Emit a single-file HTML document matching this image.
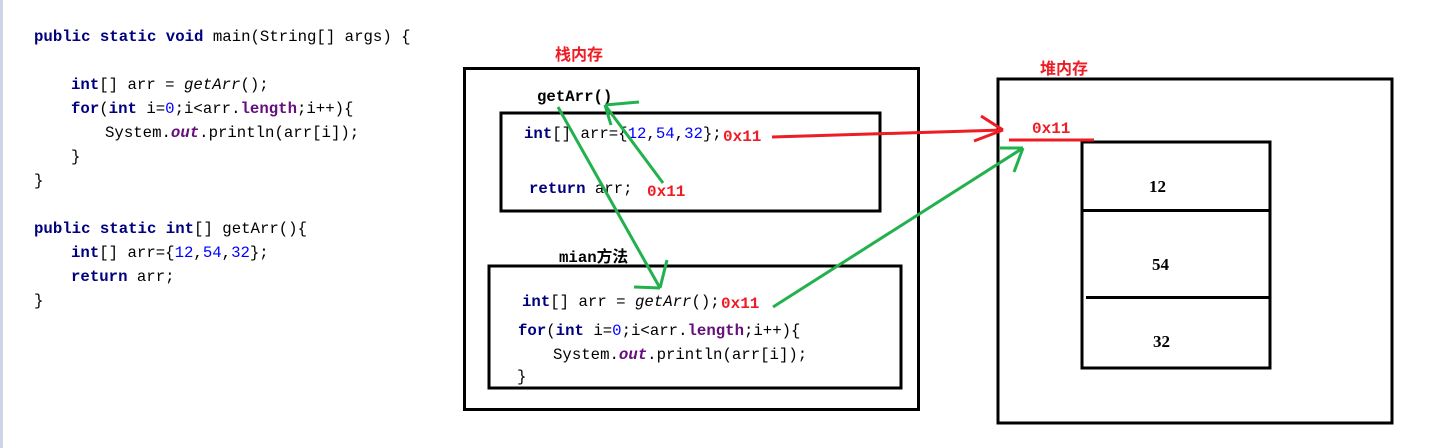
<!DOCTYPE html>
<html><head><meta charset="utf-8"><style>
html,body{margin:0;padding:0;background:#fff;width:1431px;height:448px;overflow:hidden}
svg{display:block}
.c{font-family:"Liberation Mono","Noto Sans CJK SC",monospace;font-size:15.7px;fill:#000}
.k{fill:#00007f;font-weight:bold}
.n{fill:#0000ff}
.p{fill:#660e7a;font-weight:bold}
.o{fill:#660e7a;font-weight:bold;font-style:italic}
.i{font-style:italic}
.r{fill:#ee1c24;font-weight:bold;font-family:"Liberation Mono","Noto Sans CJK SC",monospace;font-size:16px}
.b{font-family:"Liberation Mono","Noto Sans CJK SC",monospace;font-weight:bold;font-size:15.7px}
.h{font-family:"Liberation Serif",serif;font-weight:bold;font-size:17px}
</style></head><body>
<svg width="1431" height="448" xmlns="http://www.w3.org/2000/svg">
<rect x="0" y="0" width="3" height="448" fill="#cdd5e6"/>
<text class="c" x="34" y="41"><tspan class="k">public static void</tspan> main(String[] args) {</text>
<text class="c" x="71" y="89"><tspan class="k">int</tspan>[] arr = <tspan class="i">getArr</tspan>();</text>
<text class="c" x="71" y="113"><tspan class="k">for</tspan>(<tspan class="k">int</tspan> i=<tspan class="n">0</tspan>;i&lt;arr.<tspan class="p">length</tspan>;i++){</text>
<text class="c" x="105" y="137">System.<tspan class="o">out</tspan>.println(arr[i]);</text>
<text class="c" x="71" y="161">}</text>
<text class="c" x="34" y="185">}</text>
<text class="c" x="34" y="233"><tspan class="k">public static int</tspan>[] getArr(){</text>
<text class="c" x="71" y="257"><tspan class="k">int</tspan>[] arr={<tspan class="n">12</tspan>,<tspan class="n">54</tspan>,<tspan class="n">32</tspan>};</text>
<text class="c" x="71" y="281"><tspan class="k">return</tspan> arr;</text>
<text class="c" x="34" y="305">}</text>

<text x="555" y="60" fill="#ee1c24" font-weight="bold" font-size="16" font-family="Noto Sans CJK SC,sans-serif">栈内存</text>
<rect x="464.5" y="68.5" width="454" height="341" fill="none" stroke="#000" stroke-width="3"/>
<text class="b" x="537" y="101">getArr()</text>
<rect x="501" y="113" width="379" height="98" fill="none" stroke="#000" stroke-width="3"/>
<text class="c" x="524" y="138"><tspan class="k">int</tspan>[] arr={<tspan class="n">12</tspan>,<tspan class="n">54</tspan>,<tspan class="n">32</tspan>};</text>
<text class="r" x="723" y="141">0x11</text>
<text class="c" x="529" y="193"><tspan class="k">return</tspan> arr;</text>
<text class="r" x="647" y="196">0x11</text>
<text class="b" x="559" y="262">mian<tspan font-family="Noto Sans CJK SC,sans-serif">方法</tspan></text>
<rect x="489" y="266" width="412" height="122" fill="none" stroke="#000" stroke-width="3"/>
<text class="c" x="522" y="306"><tspan class="k">int</tspan>[] arr = <tspan class="i">getArr</tspan>();</text>
<text class="r" x="721" y="308">0x11</text>
<text class="c" x="518" y="335"><tspan class="k">for</tspan>(<tspan class="k">int</tspan> i=<tspan class="n">0</tspan>;i&lt;arr.<tspan class="p">length</tspan>;i++){</text>
<text class="c" x="553" y="359">System.<tspan class="o">out</tspan>.println(arr[i]);</text>
<text class="c" x="517" y="381">}</text>

<text x="1040" y="74" fill="#ee1c24" font-weight="bold" font-size="16" font-family="Noto Sans CJK SC,sans-serif">堆内存</text>
<rect x="998" y="79" width="394" height="344" fill="none" stroke="#000" stroke-width="3"/>
<rect x="1082" y="142" width="188" height="226" fill="none" stroke="#000" stroke-width="3"/>
<line x1="1082" y1="210.5" x2="1270" y2="210.5" stroke="#000" stroke-width="3"/>
<line x1="1086" y1="297.5" x2="1270" y2="297.5" stroke="#000" stroke-width="3"/>
<text class="h" x="1149" y="192">12</text>
<text class="h" x="1152" y="270">54</text>
<text class="h" x="1153" y="347">32</text>
<text class="r" x="1032" y="133">0x11</text>
<line x1="1009" y1="140" x2="1094" y2="140" stroke="#ee1c24" stroke-width="3"/>

<g stroke="#ee1c24" stroke-width="3" fill="none">
<line x1="772" y1="137" x2="1003" y2="130"/>
<line x1="981" y1="116" x2="1003" y2="130"/>
<line x1="974" y1="141" x2="1003" y2="130"/>
</g>
<g stroke="#22b14c" stroke-width="3" fill="none">
<line x1="558" y1="107" x2="660" y2="288"/>
<line x1="634" y1="287" x2="660" y2="288"/>
<line x1="667" y1="260" x2="660" y2="288"/>
<line x1="663" y1="183" x2="605" y2="105"/>
<line x1="639" y1="102" x2="605" y2="105"/>
<line x1="611" y1="125" x2="605" y2="105"/>
<line x1="773" y1="307" x2="1023" y2="148"/>
<line x1="999" y1="148" x2="1023" y2="148"/>
<line x1="1014" y1="172" x2="1023" y2="148"/>
</g>
</svg>
</body></html>
